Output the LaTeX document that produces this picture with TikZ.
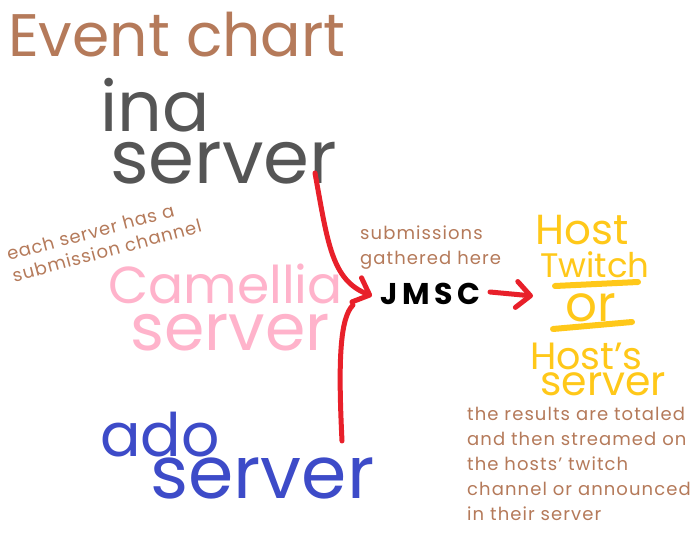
\documentclass[tikz,border=0pt]{standalone}
\usepackage{fontspec}
\setmainfont{Poppins}
\usetikzlibrary{arrows.meta}
\definecolor{brn}{HTML}{B57A5A}
\definecolor{gry}{HTML}{555555}
\definecolor{pnk}{HTML}{FFB3CB}
\definecolor{blu}{HTML}{3D4BC8}
\definecolor{rd}{HTML}{E8202A}
\definecolor{ylw}{HTML}{FFC819}
\begin{document}
\begin{tikzpicture}[x=1pt,y=-1pt,
  hand/.style={anchor=base west,inner sep=0pt,text depth=0pt,text height=0.56em},
  tall/.style={text height=0.72em},
  note/.style={anchor=north west,inner sep=0pt,text=brn,align=left,font=\fontsize{18}{25}\selectfont\addfontfeature{LetterSpace=6}},
  conn/.style={draw=rd,line width=5pt,line cap=round,line join=round},
  tip/.style={-{Straight Barb[length=14pt,width=26pt,line width=5pt,round]}}]
\useasboundingbox (0,0) rectangle (696,553);
\fill[white] (0,0) rectangle (696,553);
% title
\node[hand,tall,text=brn,font=\fontsize{60}{60}\selectfont] (title) at (8,57) {Event chart};
% ina server
\node[hand,tall,text=gry,font=\fontsize{70}{70}\selectfont] (ina) at (100,132) {ina};
\node[hand,text=gry,font=\fontsize{74}{74}\selectfont] (ina2) at (110,184) {server};
% note
\node[text=brn,align=left,rotate=15,inner sep=0pt,font=\fontsize{18}{22}\selectfont\addfontfeature{LetterSpace=5}] (note1) at (104,240) {each server has a\\submission channel};
% camellia
\node[hand,tall,text=pnk,font=\fontsize{52}{52}\selectfont] (cam) at (108,304) {Camellia};
\node[hand,text=pnk,font=\fontsize{65}{65}\selectfont] (cam2) at (130,350) {server};
% ado
\node[hand,tall,text=blu,font=\fontsize{60}{60}\selectfont] (ado) at (100,456) {ado};
\node[hand,text=blu,font=\fontsize{73}{73}\selectfont] (ado2) at (150,498) {server};
% JMSC
\node[note] (sub) at (360,226) {submissions\\gathered here};
\node[hand,tall,font=\fontsize{30}{30}\selectfont\bfseries\addfontfeature{LetterSpace=15}] (jmsc) at (380,305) {JMSC};
% host
\node[hand,tall,text=ylw,font=\fontsize{42}{42}\selectfont] (host) at (535,245) {Host};
\node[hand,tall,text=ylw,font=\fontsize{34}{34}\selectfont] (tw) at (540,278) {Twitch};
\node[hand,text=ylw,font=\fontsize{50}{50}\selectfont] (or) at (565,321) {or};
\node[hand,tall,text=ylw,font=\fontsize{38}{38}\selectfont] (hs) at (530,369) {Host's};
\node[hand,text=ylw,font=\fontsize{41}{41}\selectfont] (hs2) at (540,395) {server};
\coordinate (u1a) at (555,286); \coordinate (u1b) at (638,282);
\coordinate (u2a) at (553,329); \coordinate (u2b) at (632,322);
\draw[ylw,line width=6pt,line cap=round] (u1a) -- (u1b);
\draw[ylw,line width=6pt,line cap=round] (u2a) -- (u2b);
% result note
\node[note] (res) at (467,407) {the results are totaled\\and then streamed on\\the hosts' twitch\\channel or announced\\in their server};
% connectors
\coordinate (a1) at (315,173);
\coordinate (a2) at (342,441);
\coordinate (m) at (372,296);
\coordinate (jin) at (353,305);
\coordinate (j1) at (490,292);
\coordinate (h1) at (533,296);
\draw[conn,tip] (a1) .. controls (328,245) and (332,280) .. (m);
\draw[conn] (a2) .. controls (338,360) and (340,318) .. (jin);
\draw[conn,tip] (j1) -- (h1);
\end{tikzpicture}
\end{document}
